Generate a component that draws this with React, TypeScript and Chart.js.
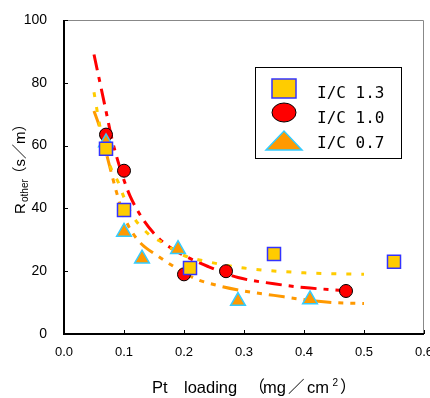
import React, { useEffect, useRef } from "react";
import { Chart, registerables } from "chart.js";
Chart.register(...registerables);

// axis ranges / ticks
const xTickValues = [0, 0.1, 0.2, 0.3, 0.4, 0.5, 0.6];
const yTickValues = [0, 20, 40, 60, 80, 100];

const seriesLabels = ["I/C 1.3", "I/C 1.0", "I/C 0.7"];

// measured points
const sq13X = [0.07, 0.1, 0.21, 0.35, 0.55];
const sq13Y = [59, 39.5, 21, 25.5, 23];
const ci10X = [0.07, 0.1, 0.2, 0.27, 0.47];
const ci10Y = [63.5, 52, 19, 20, 13.7];
const tr07X = [0.07, 0.1, 0.13, 0.19, 0.29, 0.41];
const tr07Y = [61, 32.5, 24, 27, 10.5, 11];

// fitted curves
const fit13X = [0.05, 0.06, 0.07, 0.08, 0.09, 0.1, 0.115, 0.14, 0.165, 0.2, 0.24, 0.3, 0.4, 0.5];
const fit13Y = [77, 66, 58, 52, 48.5, 43.5, 37.5, 32, 29, 25, 23, 21, 19.5, 19];
const fit10X = [0.05, 0.06, 0.07, 0.08, 0.09, 0.1, 0.11, 0.13, 0.15, 0.17, 0.2, 0.24, 0.29, 0.35, 0.4, 0.47];
const fit10Y = [89, 80, 71, 62, 55, 49, 44, 37, 32, 28.5, 25, 21.5, 18, 16, 14.8, 13.8];
const fit07X = [0.05, 0.06, 0.07, 0.08, 0.09, 0.1, 0.115, 0.13, 0.155, 0.2, 0.22, 0.255, 0.3, 0.35, 0.41, 0.45, 0.5];
const fit07Y = [71, 65.5, 58, 50.5, 43.5, 37.5, 32, 28.5, 25, 19.5, 17.5, 15.5, 13.7, 12.3, 10.7, 10, 9.7];

const pts = (xs: number[], ys: number[]) => xs.map((x, i) => ({ x, y: ys[i] }));

const decor = {
  id: "decor",
  afterDraw(chart: any) {
    const ctx = chart.ctx as CanvasRenderingContext2D;
    const { left, right, top, bottom } = chart.chartArea;
    const xs = chart.scales.x;
    const ys = chart.scales.y;
    ctx.save();
    // top / right frame
    ctx.strokeStyle = "#888";
    ctx.lineWidth = 1;
    ctx.beginPath();
    ctx.moveTo(left, top + 0.5);
    ctx.lineTo(right - 0.5, top + 0.5);
    ctx.lineTo(right - 0.5, bottom);
    ctx.stroke();
    // left / bottom axes
    ctx.strokeStyle = "#000";
    ctx.lineWidth = 2;
    ctx.beginPath();
    ctx.moveTo(left, top);
    ctx.lineTo(left, bottom);
    ctx.lineTo(right, bottom);
    ctx.stroke();
    // inward ticks
    ctx.lineWidth = 1;
    ctx.beginPath();
    yTickValues.forEach((v) => {
      const py = Math.round(ys.getPixelForValue(v)) + 0.5;
      ctx.moveTo(left, py);
      ctx.lineTo(left + 4, py);
    });
    xTickValues.forEach((v) => {
      const px = Math.round(xs.getPixelForValue(v)) + 0.5;
      ctx.moveTo(px, bottom);
      ctx.lineTo(px, bottom - 4);
    });
    ctx.stroke();

    // X title
    ctx.fillStyle = "#000";
    ctx.textBaseline = "alphabetic";
    const fMain = '16.5px "Liberation Sans", "Noto Sans CJK JP", sans-serif';
    const fSup = '10px "Liberation Sans", sans-serif';
    const by = 393;
    ctx.font = fMain;
    ctx.textAlign = "left";
    ctx.fillText("Pt", 152, by);
    ctx.fillText("loading", 184, by);
    ctx.textAlign = "right";
    ctx.fillText("（", 265, by);
    ctx.textAlign = "left";
    ctx.fillText("mg", 263, by);
    ctx.fillText("／", 288, by);
    ctx.fillText("cm", 307, by);
    ctx.font = fSup;
    ctx.fillText("2", 332.5, by - 7);
    ctx.font = fMain;
    ctx.fillText("）", 340, by);

    // Y title (rotated)
    ctx.save();
    ctx.translate(25, 168);
    ctx.rotate(-Math.PI / 2);
    const yMain = '15px "Liberation Sans", "Noto Sans CJK JP", sans-serif';
    const ySub = '10px "Liberation Sans", sans-serif';
    ctx.font = yMain;
    ctx.textAlign = "left";
    ctx.fillText("R", -46, 0);
    ctx.font = ySub;
    ctx.fillText("other", -34, 2.5);
    ctx.font = yMain;
    ctx.textAlign = "center";
    ctx.fillText("（s／m）", 19, 0);
    ctx.restore();

    // Legend
    ctx.textAlign = "left";
    ctx.lineWidth = 1;
    ctx.strokeStyle = "#000";
    ctx.fillStyle = "#fff";
    ctx.fillRect(255.5, 67.5, 146, 91);
    ctx.strokeRect(255.5, 67.5, 146, 91);
    // square
    ctx.fillStyle = "#FFCC00";
    ctx.fillRect(272, 79, 24, 19);
    ctx.strokeStyle = "#3333FF";
    ctx.lineWidth = 1.5;
    ctx.strokeRect(272, 79, 24, 19);
    // circle
    ctx.beginPath();
    ctx.ellipse(284, 112.5, 12, 9.5, 0, 0, Math.PI * 2);
    ctx.fillStyle = "#FF0000";
    ctx.fill();
    ctx.strokeStyle = "#000";
    ctx.lineWidth = 1;
    ctx.stroke();
    // triangle
    ctx.beginPath();
    ctx.moveTo(266, 150);
    ctx.lineTo(302, 150);
    ctx.lineTo(284, 131);
    ctx.closePath();
    ctx.fillStyle = "#FF9900";
    ctx.fill();
    ctx.strokeStyle = "#33CCFF";
    ctx.lineWidth = 1.5;
    ctx.stroke();
    ctx.fillStyle = "#000";
    ctx.font = '16px "DejaVu Sans Mono", monospace';
    const baselines = [98, 123, 148];
    seriesLabels.forEach((l, i) => ctx.fillText(l, 317, baselines[i]));
    ctx.restore();
  },
};

const zeroPad = (s: any) => {
  s.paddingLeft = 0;
  s.paddingRight = 0;
  s.paddingTop = 0;
  s.paddingBottom = 0;
};

export default function App() {
  const ref = useRef<HTMLCanvasElement | null>(null);
  useEffect(() => {
    if (!ref.current) return;
    const lineDs = (xs: number[], ys: number[], color: string, dash: number[], order: number) => ({
      data: pts(xs, ys),
      showLine: true,
      borderColor: color,
      borderWidth: 3,
      borderDash: dash,
      pointRadius: 0,
      pointHoverRadius: 0,
      cubicInterpolationMode: "monotone",
      tension: 0.4,
      fill: false,
      order,
    });
    const chart = new Chart(ref.current, {
      type: "scatter",
      data: {
        datasets: [
          {
            label: seriesLabels[0],
            data: pts(sq13X, sq13Y),
            pointStyle: "rect",
            pointRadius: 9.2,
            backgroundColor: "#FFCC00",
            borderColor: "#3333FF",
            borderWidth: 1.5,
            order: 0,
          },
          {
            label: seriesLabels[2],
            data: pts(tr07X, tr07Y),
            pointStyle: "triangle",
            pointRadius: 8.5,
            backgroundColor: "#FF9900",
            borderColor: "#33CCFF",
            borderWidth: 1.5,
            order: 1,
          },
          {
            label: seriesLabels[1],
            data: pts(ci10X, ci10Y),
            pointStyle: "circle",
            pointRadius: 6.5,
            backgroundColor: "#FF0000",
            borderColor: "#000",
            borderWidth: 1,
            order: 2,
          },
          lineDs(fit13X, fit13Y, "#FFCC00", [5, 10], 3) as any,
          lineDs(fit07X, fit07Y, "#FF9900", [16, 7, 5, 7, 5, 7], 4) as any,
          lineDs(fit10X, fit10Y, "#FF0000", [16, 7, 5, 7], 5) as any,
        ],
      },
      options: {
        responsive: false,
        animation: false,
        devicePixelRatio: 1,
        layout: { autoPadding: false, padding: { left: 0, right: 6, top: 20, bottom: 0 } },
        plugins: { legend: { display: false }, tooltip: { enabled: false } },
        scales: {
          x: {
            type: "linear",
            min: 0,
            max: 0.6,
            afterFit: (s: any) => {
              s.height = 64;
              zeroPad(s);
            },
            afterBuildTicks: (s: any) => {
              s.ticks = xTickValues.map((v) => ({ value: v }));
            },
            grid: { display: false, drawTicks: false },
            border: { display: false },
            ticks: {
              padding: 11,
              color: "#000",
              font: { family: '"Liberation Sans", sans-serif', size: 13 },
              callback: (v: any) => Number(v).toFixed(1),
            },
          },
          y: {
            type: "linear",
            min: 0,
            max: 100,
            afterFit: (s: any) => {
              s.width = 64;
              zeroPad(s);
            },
            afterBuildTicks: (s: any) => {
              s.ticks = yTickValues.map((v) => ({ value: v }));
            },
            grid: { display: false, drawTicks: false },
            border: { display: false },
            ticks: {
              padding: 17,
              color: "#000",
              font: { family: '"Liberation Sans", sans-serif', size: 14 },
              callback: (v: any) => String(v),
            },
          },
        },
      },
      plugins: [decor],
    });
    return () => chart.destroy();
  }, []);
  return (
    <div style={{ position: "fixed", left: 0, top: 0, width: 430, height: 398, background: "#fff" }}>
      <canvas ref={ref} width={430} height={398} style={{ width: 430, height: 398, display: "block" }} />
    </div>
  );
}
